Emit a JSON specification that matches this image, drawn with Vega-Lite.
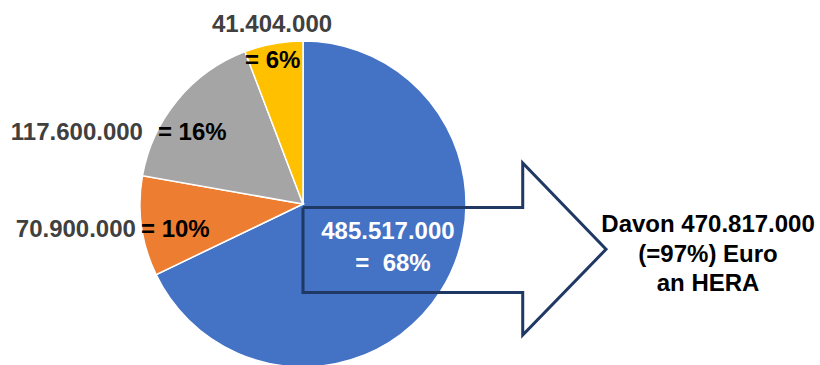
{
  "$schema": "https://vega.github.io/schema/vega-lite/v6.json",
  "width": 820,
  "height": 365,
  "padding": 0,
  "autosize": {"type": "none"},
  "background": "#ffffff",
  "config": {"view": {"stroke": null}},
  "datasets": {
    "slices": [
      {"posten": "Posten A", "betrag": 485517000, "rang": 1, "wert": "485.517.000", "anteil": "=\u00a0 68%"},
      {"posten": "Posten B", "betrag": 70900000, "rang": 2, "wert": "70.900.000", "anteil": "= 10%"},
      {"posten": "Posten C", "betrag": 117600000, "rang": 3, "wert": "117.600.000", "anteil": "= 16%"},
      {"posten": "Posten D", "betrag": 41404000, "rang": 4, "wert": "41.404.000", "anteil": "= 6%"}
    ],
    "arrow": [
      {"i": 1, "x": 0, "y": -0.0215},
      {"i": 2, "x": 1.348, "y": -0.0215},
      {"i": 3, "x": 1.348, "y": 0.252},
      {"i": 4, "x": 1.859, "y": -0.278},
      {"i": 5, "x": 1.348, "y": -0.804},
      {"i": 6, "x": 1.348, "y": -0.543},
      {"i": 7, "x": 0, "y": -0.543},
      {"i": 8, "x": 0, "y": -0.0215}
    ],
    "note": [{"text": "Davon 470.817.000\n(=97%) Euro\nan HERA"}]
  },
  "layer": [
    {
      "data": {"name": "slices"},
      "mark": {"type": "arc", "radius": 163, "stroke": "#ffffff", "strokeWidth": 1.5},
      "encoding": {
        "theta": {"field": "betrag", "type": "quantitative", "stack": true},
        "order": {"field": "rang", "type": "quantitative", "sort": "ascending"},
        "color": {
          "field": "posten",
          "type": "nominal",
          "scale": {"domain": ["Posten A", "Posten B", "Posten C", "Posten D"], "range": ["#4472C4", "#ED7D31", "#A5A5A5", "#FFC000"]},
          "legend": null
        },
        "x": {"datum": 0, "type": "quantitative", "scale": {"domain": [-1.8589, 3.1718], "nice": false, "zero": false}, "axis": null},
        "y": {"datum": 0, "type": "quantitative", "scale": {"domain": [-0.9877, 1.2515], "nice": false, "zero": false}, "axis": null}
      }
    },
    {
      "data": {"name": "arrow"},
      "mark": {"type": "line", "color": "#1F3864", "strokeWidth": 3, "strokeJoin": "miter", "strokeMiterLimit": 10},
      "encoding": {
        "x": {"field": "x", "type": "quantitative", "axis": null},
        "y": {"field": "y", "type": "quantitative", "axis": null},
        "order": {"field": "i", "type": "quantitative"}
      }
    },
    {
      "data": {"name": "slices"},
      "transform": [{"filter": "datum.rang === 4"}],
      "mark": {"type": "text", "font": "Liberation Sans", "fontWeight": "bold", "fontSize": 24, "color": "#404040", "align": "center", "baseline": "alphabetic"},
      "encoding": {"text": {"field": "wert"}, "x": {"datum": -0.19, "type": "quantitative"}, "y": {"datum": 1.055, "type": "quantitative"}}
    },
    {
      "data": {"name": "slices"},
      "transform": [{"filter": "datum.rang === 4"}],
      "mark": {"type": "text", "font": "Liberation Sans", "fontWeight": "bold", "fontSize": 24, "color": "#000000", "align": "left", "baseline": "alphabetic"},
      "encoding": {"text": {"field": "anteil"}, "x": {"datum": -0.356, "type": "quantitative"}, "y": {"datum": 0.834, "type": "quantitative"}}
    },
    {
      "data": {"name": "slices"},
      "transform": [{"filter": "datum.rang === 3"}],
      "mark": {"type": "text", "font": "Liberation Sans", "fontWeight": "bold", "fontSize": 24, "color": "#404040", "align": "right", "baseline": "alphabetic"},
      "encoding": {"text": {"field": "wert"}, "x": {"datum": -0.982, "type": "quantitative"}, "y": {"datum": 0.393, "type": "quantitative"}}
    },
    {
      "data": {"name": "slices"},
      "transform": [{"filter": "datum.rang === 3"}],
      "mark": {"type": "text", "font": "Liberation Sans", "fontWeight": "bold", "fontSize": 24, "color": "#000000", "align": "left", "baseline": "alphabetic"},
      "encoding": {"text": {"field": "anteil"}, "x": {"datum": -0.89, "type": "quantitative"}, "y": {"datum": 0.393, "type": "quantitative"}}
    },
    {
      "data": {"name": "slices"},
      "transform": [{"filter": "datum.rang === 2"}],
      "mark": {"type": "text", "font": "Liberation Sans", "fontWeight": "bold", "fontSize": 24, "color": "#404040", "align": "right", "baseline": "alphabetic"},
      "encoding": {"text": {"field": "wert"}, "x": {"datum": -1.025, "type": "quantitative"}, "y": {"datum": -0.202, "type": "quantitative"}}
    },
    {
      "data": {"name": "slices"},
      "transform": [{"filter": "datum.rang === 2"}],
      "mark": {"type": "text", "font": "Liberation Sans", "fontWeight": "bold", "fontSize": 24, "color": "#000000", "align": "left", "baseline": "alphabetic"},
      "encoding": {"text": {"field": "anteil"}, "x": {"datum": -0.994, "type": "quantitative"}, "y": {"datum": -0.202, "type": "quantitative"}}
    },
    {
      "data": {"name": "slices"},
      "transform": [{"filter": "datum.rang === 1"}],
      "mark": {"type": "text", "font": "Liberation Sans", "fontWeight": "bold", "fontSize": 24, "color": "#ffffff", "align": "center", "baseline": "alphabetic"},
      "encoding": {"text": {"field": "wert"}, "x": {"datum": 0.521, "type": "quantitative"}, "y": {"datum": -0.215, "type": "quantitative"}}
    },
    {
      "data": {"name": "slices"},
      "transform": [{"filter": "datum.rang === 1"}],
      "mark": {"type": "text", "font": "Liberation Sans", "fontWeight": "bold", "fontSize": 24, "color": "#ffffff", "align": "center", "baseline": "alphabetic"},
      "encoding": {"text": {"field": "anteil"}, "x": {"datum": 0.552, "type": "quantitative"}, "y": {"datum": -0.411, "type": "quantitative"}}
    },
    {
      "data": {"name": "note"},
      "mark": {"type": "text", "font": "Liberation Sans", "fontWeight": "bold", "fontSize": 24, "color": "#000000", "align": "center", "baseline": "alphabetic", "lineBreak": "\n", "lineHeight": 29.5},
      "encoding": {"text": {"field": "text"}, "x": {"datum": 2.485, "type": "quantitative"}, "y": {"datum": -0.172, "type": "quantitative"}}
    }
  ]
}
